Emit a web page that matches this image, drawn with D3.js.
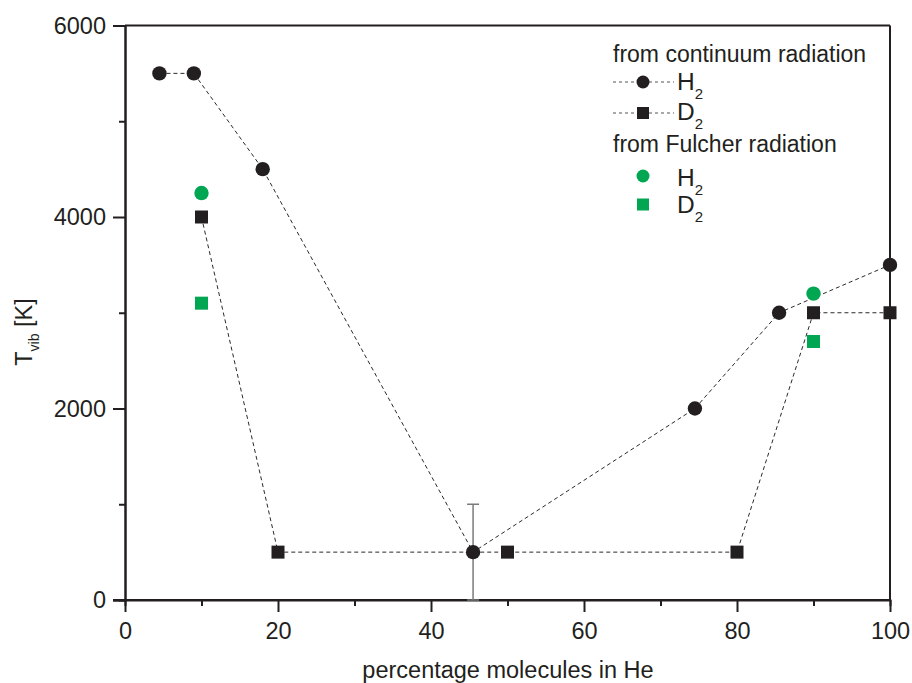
<!DOCTYPE html>
<html>
<head>
<meta charset="utf-8">
<script src="https://cdn.jsdelivr.net/npm/d3@7"></script>
<style>
  html, body { margin: 0; padding: 0; background: #fff; }
  svg { display: block; font-family: "Liberation Sans", Arial, Helvetica, sans-serif; }
</style>
</head>
<body>
<svg id="chart" width="912" height="683"></svg>
<script>
// ---- data ----
const h2ContX = [4.5, 9, 18, 45.5, 74.5, 85.5, 100];
const h2ContY = [5500, 5500, 4500, 500, 2000, 3000, 3500];
const d2ContX = [10, 20, 50, 80, 90, 100];
const d2ContY = [4000, 500, 500, 500, 3000, 3000];
const h2FulX = [10, 90];
const h2FulY = [4250, 3200];
const d2FulX = [10, 90];
const d2FulY = [3100, 2700];
const errX = [45.5];
const errLow = [0];
const errHigh = [1000];
const xTicks = [0, 20, 40, 60, 80, 100];
const xMinor = [10, 30, 50, 70, 90];
const yTicks = [0, 2000, 4000, 6000];
const yMinor = [1000, 3000, 5000];

const dark = "#231f20";
const green = "#00a651";

const svg = d3.select("#chart");
const mLeft = 125, mRight = 890, mTop = 25.5, mBottom = 600;
const x = d3.scaleLinear().domain([0, 100]).range([mLeft, mRight]);
const y = d3.scaleLinear().domain([0, 6000]).range([mBottom, mTop]);

// frame (top & right)
svg.append("line").attr("x1", mLeft).attr("x2", mRight).attr("y1", mTop).attr("y2", mTop)
  .attr("stroke", dark).attr("stroke-width", 2);
svg.append("line").attr("x1", mRight).attr("x2", mRight).attr("y1", mTop).attr("y2", mBottom)
  .attr("stroke", dark).attr("stroke-width", 2);

// axes
const xAxis = svg.append("g").attr("transform", `translate(0,${mBottom})`)
  .call(d3.axisBottom(x).tickValues(xTicks).tickSize(12).tickPadding(10).tickFormat(d3.format("d")));
const xAxisMinor = svg.append("g").attr("transform", `translate(0,${mBottom})`)
  .call(d3.axisBottom(x).tickValues(xMinor).tickSize(6).tickFormat(""));
const yAxis = svg.append("g").attr("transform", `translate(${mLeft},0)`)
  .call(d3.axisLeft(y).tickValues(yTicks).tickSize(12).tickPadding(7).tickFormat(d3.format("d")));
const yAxisMinor = svg.append("g").attr("transform", `translate(${mLeft},0)`)
  .call(d3.axisLeft(y).tickValues(yMinor).tickSize(6).tickFormat(""));

[xAxis, xAxisMinor, yAxis, yAxisMinor].forEach(g => {
  g.select(".domain").attr("stroke", dark).attr("stroke-width", 2);
  g.selectAll(".tick line").attr("stroke", dark).attr("stroke-width", 2);
  g.selectAll(".tick text").attr("fill", dark).attr("font-size", 23.5)
    .attr("font-family", "'Liberation Sans', Arial, sans-serif");
});
xAxis.select(".domain").attr("d", `M${mLeft - 12},0H${mRight}`);

// axis labels
svg.append("text").attr("x", 508).attr("y", 678).attr("text-anchor", "middle")
  .attr("font-size", 23.5).attr("fill", dark).text("percentage molecules in He");
const yl = svg.append("text").attr("transform", "translate(32,332) rotate(-90)")
  .attr("text-anchor", "middle").attr("font-size", 23.5).attr("fill", dark);
yl.append("tspan").text("T");
yl.append("tspan").attr("dy", 7).attr("font-size", 14).text("vib");
yl.append("tspan").attr("dy", -7).text(" [K]");

// lines
const lineGen = d3.line().x(d => x(d[0])).y(d => y(d[1]));
const h2Cont = h2ContX.map((v, i) => [v, h2ContY[i]]);
const d2Cont = d2ContX.map((v, i) => [v, d2ContY[i]]);
[h2Cont, d2Cont].forEach(pts => {
  svg.append("path").attr("d", lineGen(pts)).attr("fill", "none")
    .attr("stroke", "#2a2a2a").attr("stroke-width", 1).attr("stroke-dasharray", "4,3");
});

// error bar
errX.forEach((ex, i) => {
  const g = svg.append("g").attr("stroke", "#7a7a7a").attr("stroke-width", 1.5);
  g.append("line").attr("x1", x(ex)).attr("x2", x(ex)).attr("y1", y(errLow[i])).attr("y2", y(errHigh[i]));
  g.append("line").attr("x1", x(ex) - 6).attr("x2", x(ex) + 6).attr("y1", y(errHigh[i])).attr("y2", y(errHigh[i]));
  g.append("line").attr("x1", x(ex) - 6).attr("x2", x(ex) + 6).attr("y1", y(errLow[i])).attr("y2", y(errLow[i]));
});

// markers
const sq = 13, r = 7.2;
svg.append("g").selectAll("rect").data(d2Cont).join("rect")
  .attr("x", d => x(d[0]) - sq / 2).attr("y", d => y(d[1]) - sq / 2)
  .attr("width", sq).attr("height", sq).attr("fill", dark);
svg.append("g").selectAll("circle").data(h2Cont).join("circle")
  .attr("cx", d => x(d[0])).attr("cy", d => y(d[1])).attr("r", r).attr("fill", dark);
svg.append("g").selectAll("circle").data(h2FulX.map((v, i) => [v, h2FulY[i]])).join("circle")
  .attr("cx", d => x(d[0])).attr("cy", d => y(d[1])).attr("r", r).attr("fill", green);
svg.append("g").selectAll("rect").data(d2FulX.map((v, i) => [v, d2FulY[i]])).join("rect")
  .attr("x", d => x(d[0]) - sq / 2).attr("y", d => y(d[1]) - sq / 2)
  .attr("width", sq).attr("height", sq).attr("fill", green);

// legend
const lg = svg.append("g").attr("fill", dark);
const legendRows = [
  { type: "title", text: "from continuum radiation", y: 62 },
  { type: "item", shape: "circle", color: dark, dashed: true, label: "H", y: 82, base: 90 },
  { type: "item", shape: "square", color: dark, dashed: true, label: "D", y: 113, base: 120 },
  { type: "title", text: "from Fulcher radiation", y: 152 },
  { type: "item", shape: "circle", color: green, dashed: false, label: "H", y: 176, base: 186 },
  { type: "item", shape: "square", color: green, dashed: false, label: "D", y: 204.5, base: 213 }
];
legendRows.forEach(row => {
  if (row.type === "title") {
    lg.append("text").attr("x", 613).attr("y", row.y).attr("font-size", 23).text(row.text);
  } else {
    if (row.dashed) {
      lg.append("line").attr("x1", 613).attr("x2", 674).attr("y1", row.y).attr("y2", row.y)
        .attr("stroke", "#555").attr("stroke-width", 1).attr("stroke-dasharray", "3,3");
    }
    if (row.shape === "circle") {
      lg.append("circle").attr("cx", 643).attr("cy", row.y).attr("r", 6.5).attr("fill", row.color);
    } else {
      lg.append("rect").attr("x", 643 - 6).attr("y", row.y - 6).attr("width", 12).attr("height", 12).attr("fill", row.color);
    }
    const t = lg.append("text").attr("x", 677).attr("y", row.base).attr("font-size", 24.5);
    t.append("tspan").text(row.label);
    t.append("tspan").attr("dy", 9).attr("font-size", 15).text("2");
  }
});
</script>
</body>
</html>
